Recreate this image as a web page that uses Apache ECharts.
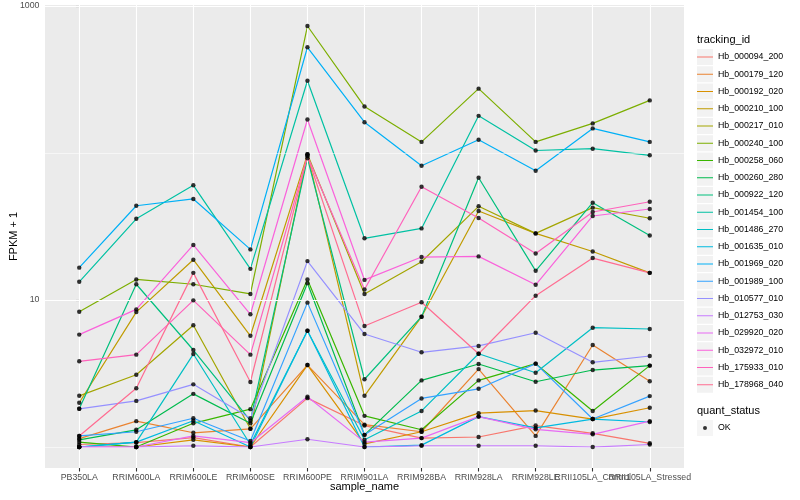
<!DOCTYPE html>
<html><head><meta charset="utf-8">
<script src="https://cdn.jsdelivr.net/npm/echarts@6/dist/echarts.min.js"></script>
<style>html,body{margin:0;padding:0;background:#fff}#c{width:800px;height:500px}</style>
</head><body><div id="c"></div>
<script>
const categories = ['PB350LA','RRIM600LA','RRIM600LE','RRIM600SE','RRIM600PE','RRIM901LA','RRIM928BA','RRIM928LA','RRIM928LE','RRII105LA_Control','RRII105LA_Stressed'];
const trackingIds = ['Hb_000094_200','Hb_000179_120','Hb_000192_020','Hb_000210_100','Hb_000217_010','Hb_000240_100','Hb_000258_060','Hb_000260_280','Hb_000922_120','Hb_001454_100','Hb_001486_270','Hb_001635_010','Hb_001969_020','Hb_001989_100','Hb_010577_010','Hb_012753_030','Hb_029920_020','Hb_032972_010','Hb_175933_010','Hb_178968_040'];
const colors = ['#F8766D','#EA8331','#D89000','#C09B00','#A3A500','#7CAE00','#39B600','#00BB4E','#00BF7D','#00C1A3','#00BFC4','#00BAE0','#00B0F6','#35A2FF','#9590FF','#C77CFF','#E76BF3','#FA62DB','#FF62BC','#FF6C91'];

const Hb_000094_200 = [1.04, 1.07, 1.16, 1.0, 2.15, 1.40, 1.15, 1.17, 1.40, 1.24, 1.06];
const Hb_000179_120 = [1.14, 1.50, 1.25, 1.33, 3.61, 1.42, 1.27, 3.39, 1.19, 4.94, 2.80];
const Hb_000192_020 = [1.0, 1.0, 1.12, 1.0, 3.61, 1.05, 1.27, 1.70, 1.77, 1.55, 1.85];
const Hb_000210_100 = [2.00, 8.28, 18.8, 5.71, 98, 2.23, 7.7, 40.3, 28.4, 21.4, 15.3];
const Hb_000217_010 = [2.23, 3.10, 6.73, 1.33, 98, 11.0, 18.2, 43.4, 28.4, 42.5, 36.0];
const Hb_000240_100 = [8.32, 13.8, 12.8, 11.0, 731, 207, 119, 274, 119, 159, 228];
const Hb_000258_060 = [1.08, 1.0, 1.45, 1.81, 13.8, 1.63, 1.31, 2.84, 3.69, 1.76, 3.58];
const Hb_000260_280 = [1.12, 1.31, 2.30, 1.45, 13.0, 1.21, 2.84, 3.67, 2.78, 3.34, 3.58];
const Hb_000922_120 = [1.82, 12.8, 4.57, 1.51, 92, 2.89, 7.7, 67.9, 15.8, 45.9, 27.5];
const Hb_001454_100 = [13.3, 35.7, 60.3, 16.3, 310, 26.3, 30.7, 179, 104, 107, 96.5];
const Hb_001486_270 = [1.0, 1.08, 4.29, 1.04, 6.18, 1.12, 1.76, 4.31, 3.20, 6.48, 6.35];
const Hb_001635_010 = [1.0, 1.08, 1.51, 1.0, 6.18, 1.0, 1.03, 1.61, 1.35, 1.55, 1.48];
const Hb_001969_020 = [16.6, 43.8, 48.7, 22.1, 524, 162, 82, 123, 75.8, 147, 119];
const Hb_001989_100 = [1.19, 1.27, 1.57, 1.10, 9.6, 1.21, 2.14, 2.49, 3.69, 1.55, 2.22];
const Hb_010577_010 = [1.82, 2.06, 2.67, 1.57, 18.4, 5.87, 4.41, 4.87, 5.99, 3.77, 4.16];
const Hb_012753_030 = [1.0, 1.0, 1.02, 1.0, 1.13, 1.0, 1.02, 1.02, 1.02, 1.0, 1.04];
const Hb_029920_020 = [1.0, 1.0, 1.19, 1.07, 2.20, 1.08, 1.15, 1.61, 1.32, 1.22, 1.50];
const Hb_032972_010 = [5.82, 8.64, 23.7, 8.0, 169, 13.7, 19.6, 19.8, 12.7, 37.3, 41.6];
const Hb_175933_010 = [3.83, 4.25, 9.95, 4.25, 95.4, 11.8, 59, 36.1, 20.7, 39.7, 46.6];
const Hb_178968_040 = [1.19, 2.51, 15.3, 2.77, 95.4, 6.65, 9.65, 4.31, 10.7, 19.3, 15.3];

const seriesValues = [Hb_000094_200, Hb_000179_120, Hb_000192_020, Hb_000210_100, Hb_000217_010, Hb_000240_100, Hb_000258_060, Hb_000260_280, Hb_000922_120, Hb_001454_100, Hb_001486_270, Hb_001635_010, Hb_001969_020, Hb_001989_100, Hb_010577_010, Hb_012753_030, Hb_029920_020, Hb_032972_010, Hb_175933_010, Hb_178968_040];
const quantStatus = ['OK'];
const yTickValues = [10, 1000];
const yMinorGrid = [1, 100];

const FONT = '"Liberation Sans", Arial, Helvetica, sans-serif';
const lineIcon = 'path://M0,0L0.01,0M0,7.4L16,7.4L16,8.6L0,8.6ZM16,16L15.99,16';
const dotIcon = 'path://M0,0L0.01,0M6,8A2,2,0,1,0,10,8A2,2,0,1,0,6,8ZM16,16L15.99,16';
const catIdx = categories.map((c, i) => i);
const evenIdx = catIdx.filter(i => i % 2 === 0);
const oddIdx = catIdx.filter(i => i % 2 === 1);

const chart = echarts.init(document.getElementById('c'), null, {renderer: 'canvas'});

const series = trackingIds.map((id, k) => ({
  name: id, type: 'line', silent: true, animation: false,
  data: seriesValues[k].map((v, i) => [i, v]),
  showSymbol: false, symbol: 'none',
  lineStyle: {color: colors[k], width: 1.2},
  itemStyle: {color: colors[k]},
  emphasis: {disabled: true}, z: 3
}));
const gridMarks = []
  .concat(catIdx.map(i => ({xAxis: i, lineStyle: {color: '#FFFFFF', width: 1.1, type: 'solid'}})))
  .concat(yTickValues.map(v => ({yAxis: v, lineStyle: {color: '#FFFFFF', width: 1.1, type: 'solid'}})))
  .concat(yMinorGrid.map(v => ({yAxis: v, lineStyle: {color: '#FFFFFF', width: 0.55, type: 'solid'}})));
series.unshift({
  name: 'panel-grid', type: 'line', data: [], silent: true, z: 1,
  markLine: {silent: true, symbol: 'none', animation: false, label: {show: false},
    lineStyle: {color: '#FFFFFF', width: 1.1, type: 'solid'}, data: gridMarks}
});
const points = [];
seriesValues.forEach(arr => arr.forEach((v, i) => points.push([i, v])));
series.push({
  name: quantStatus[0], type: 'scatter', silent: true, animation: false,
  symbol: 'circle', symbolSize: 4.4, itemStyle: {color: '#000000'}, z: 5,
  emphasis: {disabled: true}, data: points
});

const legendCommon = {orient: 'vertical', left: 697, itemWidth: 16, itemHeight: 16, itemGap: 1.25,
  padding: 0, selectedMode: false, textStyle: {fontSize: 8.8, fontFamily: FONT, color: '#000'}};

const xLabelStyle = {margin: 5, fontSize: 8.8, color: '#4D4D4D', fontFamily: FONT,
  hideOverlap: false, showMinLabel: true, showMaxLabel: true,
  formatter: v => categories[Math.round(v)] || ''};

chart.setOption({
  animation: false,
  backgroundColor: '#FFFFFF',
  textStyle: {fontFamily: FONT},
  title: [
    {text: 'tracking_id', left: 697, top: 34, padding: 0,
      textStyle: {fontSize: 11, fontWeight: 'normal', color: '#000', fontFamily: FONT}},
    {text: 'quant_status', left: 697, top: 405, padding: 0,
      textStyle: {fontSize: 11, fontWeight: 'normal', color: '#000', fontFamily: FONT}}
  ],
  legend: [
    Object.assign({}, legendCommon, {top: 49, icon: 'rect',
      data: trackingIds.map(n => ({name: n, itemStyle: {color: '#F2F2F2'}})),
      textStyle: {fontSize: 8.8, fontFamily: FONT, color: 'rgba(0,0,0,0)'}}),
    Object.assign({}, legendCommon, {top: 49, icon: lineIcon,
      data: trackingIds.map((n, k) => ({name: n, itemStyle: {color: colors[k]}}))}),
    Object.assign({}, legendCommon, {top: 420, icon: 'rect',
      data: quantStatus.map(n => ({name: n, itemStyle: {color: '#F2F2F2'}})),
      textStyle: {fontSize: 8.8, fontFamily: FONT, color: 'rgba(0,0,0,0)'}}),
    Object.assign({}, legendCommon, {top: 420, icon: dotIcon,
      data: quantStatus.map(n => ({name: n, itemStyle: {color: '#000'}}))})
  ],
  grid: {left: 45, top: 5, width: 639, height: 463, show: true, backgroundColor: '#EBEBEB',
    borderWidth: 0, containLabel: false, outerBoundsMode: 'none'},
  xAxis: [
    {
      type: 'value', min: -0.6, max: 10.6, position: 'bottom', offset: 0,
      name: 'sample_name', nameLocation: 'middle', nameGap: 13, nameMoveOverlap: false,
      nameTextStyle: {fontSize: 11, color: '#000', fontFamily: FONT},
      axisLine: {show: false},
      axisTick: {show: true, length: 3.5, customValues: catIdx, lineStyle: {color: '#333333', width: 1.1}},
      axisLabel: Object.assign({customValues: evenIdx}, xLabelStyle),
      splitLine: {show: false}
    },
    {
      type: 'value', min: -0.6, max: 10.6, position: 'bottom', offset: 0,
      axisLine: {show: false}, axisTick: {show: false},
      axisLabel: Object.assign({customValues: oddIdx}, xLabelStyle),
      splitLine: {show: false}
    }
  ],
  yAxis: {
    type: 'log', logBase: 10, min: 0.72, max: 1016,
    name: 'FPKM + 1', nameLocation: 'middle', nameRotate: 90, nameGap: 26, nameMoveOverlap: false,
    nameTextStyle: {fontSize: 11, color: '#000', fontFamily: FONT},
    axisLine: {show: false},
    axisTick: {show: true, length: 3.5, customValues: yTickValues, lineStyle: {color: '#333333', width: 1.1}},
    axisLabel: {customValues: yTickValues, margin: 5.5, fontSize: 8.8, color: '#4D4D4D', fontFamily: FONT,
      showMinLabel: true, showMaxLabel: true, formatter: v => String(Math.round(v))},
    splitLine: {show: false}
  },
  series: series
});
</script></body></html>
